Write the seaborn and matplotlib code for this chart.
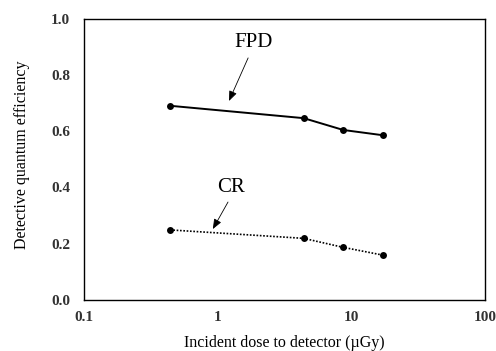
import matplotlib
matplotlib.use("Agg")
import matplotlib.pyplot as plt
import seaborn as sns
import pandas as pd
from matplotlib.ticker import FixedLocator, FixedFormatter, NullLocator

dose = [0.44, 4.4, 8.7, 17.4]
fpd = [0.690, 0.646, 0.604, 0.585]
cr = [0.249, 0.219, 0.187, 0.159]
x_ticks = [0.1, 1, 10, 100]
x_tick_labels = ["0.1", "1", "10", "100"]
y_ticks = [0.0, 0.2, 0.4, 0.6, 0.8, 1.0]

sns.set_theme(style="white")
plt.rcParams['font.family'] = ['Liberation Serif', 'DejaVu Serif']

df = pd.DataFrame({"dose": dose * 2, "dqe": fpd + cr,
                   "det": ["FPD"] * 4 + ["CR"] * 4})

fig = plt.figure(figsize=(4.96, 3.51), dpi=100)
ax = fig.add_axes([84 / 496, 1 - 300 / 351, 401 / 496, 281.5 / 351])

sns.lineplot(data=df[df.det == "FPD"], x="dose", y="dqe", ax=ax, color="black",
             linewidth=1.4, marker="o", markersize=5, markeredgewidth=0)
sns.lineplot(data=df[df.det == "CR"], x="dose", y="dqe", ax=ax, color="black",
             linewidth=1.2, linestyle=(0, (1, 1)), marker="o", markersize=5,
             markeredgewidth=0)

ax.set_xscale("log")
ax.set_xlim(0.1, 100)
ax.set_ylim(0, 1.0)
ax.xaxis.set_major_locator(FixedLocator(x_ticks))
ax.xaxis.set_major_formatter(FixedFormatter(x_tick_labels))
ax.xaxis.set_minor_locator(NullLocator())
ax.set_yticks(y_ticks)
ax.set_yticklabels([f"{v:.1f}" for v in y_ticks])
for lab in ax.get_xticklabels() + ax.get_yticklabels():
    lab.set_fontweight("bold")
    lab.set_fontsize(11)
ax.tick_params(axis="x", direction="in", length=4, width=0.8, pad=8, colors="black")
ax.tick_params(axis="y", direction="out", length=4, width=0.8, pad=6, colors="black")
ax.tick_params(axis="x", labelcolor="#333333")
ax.tick_params(axis="y", labelcolor="#333333")
for s in ax.spines.values():
    s.set_color("black")
    s.set_linewidth(1.0)

ax.set_xlabel("Incident dose to detector (µGy)", fontsize=11.5, color="black")
ax.set_ylabel("Detective quantum efficiency", fontsize=11.5, color="black")
ax.yaxis.set_label_coords(-0.135, 0.515)
ax.xaxis.set_label_coords(0.5, -0.125)

arrow = dict(arrowstyle="-|>,head_length=0.5,head_width=0.2",
             color="black", lw=0.6, shrinkA=0, shrinkB=0)
ax.text(1.84, 0.913, "FPD", fontsize=15, ha="center", va="center", color="black")
ax.annotate("", xy=(1.215, 0.707), xytext=(1.69, 0.860), arrowprops=arrow)
ax.text(1.26, 0.401, "CR", fontsize=15, ha="center", va="center", color="black")
ax.annotate("", xy=(0.92, 0.252), xytext=(1.195, 0.348), arrowprops=arrow)

fig.savefig("out.png", dpi=100)
